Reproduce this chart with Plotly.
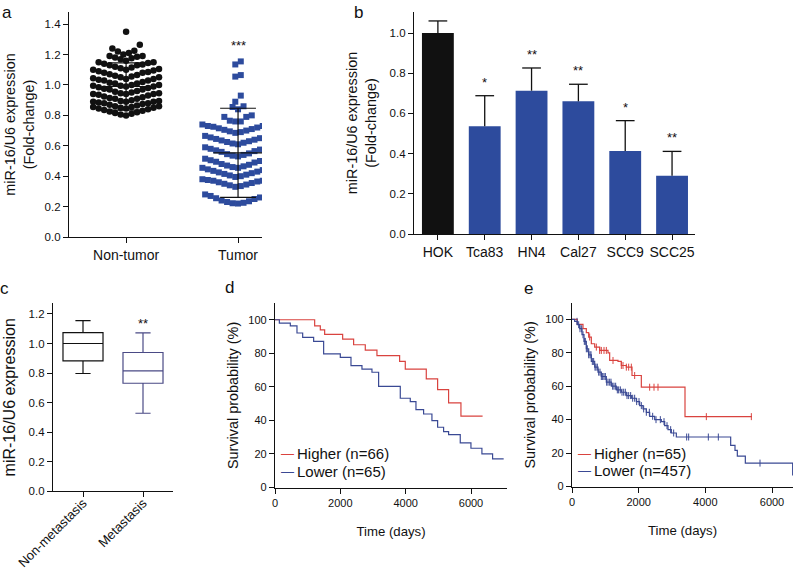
import numpy as np
import plotly.graph_objects as go

W, H = 800, 570
FONT = "Liberation Sans, Arial, sans-serif"
INK = "#111111"
BLUE = "#2d4b9d"
RED = "#d9433f"
KMBLUE = "#3a4994"
METBOX = "#4a4a85"

# ---------------- data ----------------
# panel a: scatter rows
a_groups = ["Non-tumor", "Tumor"]
nontumor_rows = [
    [1.35],
    [1.20, 1.21, 1.22, 1.225, 1.24, 1.265],
    [1.16, 1.17, 1.175, 1.18, 1.185, 1.19, 1.19],
    [1.10, 1.11, 1.115, 1.12, 1.13, 1.13, 1.135, 1.14, 1.145, 1.15, 1.15],
    [1.04, 1.05, 1.055, 1.06, 1.065, 1.07, 1.08, 1.08, 1.085, 1.09, 1.095, 1.10, 1.105],
    [0.99, 0.995, 1.00, 1.01, 1.01, 1.015, 1.02, 1.03, 1.03, 1.035, 1.04, 1.045, 1.05],
    [0.94, 0.945, 0.95, 0.955, 0.96, 0.97, 0.97, 0.975, 0.98, 0.985, 0.99, 0.995, 1.00],
    [0.89, 0.895, 0.90, 0.91, 0.91, 0.915, 0.92, 0.925, 0.93, 0.935, 0.94, 0.94, 0.945],
    [0.845, 0.85, 0.855, 0.86, 0.865, 0.87, 0.875, 0.88, 0.88, 0.885, 0.89, 0.89, 0.895],
    [0.80, 0.805, 0.81, 0.815, 0.82, 0.825, 0.83, 0.835, 0.84, 0.845, 0.85, 0.855, 0.86],
]
tumor_rows = [
    [1.135, 1.155],
    [1.055, 1.065],
    [0.89, 0.93],
    [0.84, 0.855, 0.86],
    [0.76, 0.76, 0.765, 0.79, 0.79, 0.80],
    [0.685, 0.69, 0.695, 0.70, 0.705, 0.71, 0.715, 0.72, 0.725, 0.73, 0.73, 0.735, 0.74, 0.74],
    [0.61, 0.615, 0.62, 0.625, 0.63, 0.635, 0.64, 0.645, 0.65, 0.655, 0.66, 0.665, 0.67],
    [0.53, 0.535, 0.54, 0.545, 0.55, 0.56, 0.565, 0.57, 0.575, 0.58, 0.585, 0.59, 0.60],
    [0.455, 0.46, 0.465, 0.47, 0.475, 0.48, 0.49, 0.495, 0.50, 0.505, 0.51, 0.515, 0.52],
    [0.395, 0.40, 0.405, 0.41, 0.415, 0.42, 0.425, 0.43, 0.435, 0.44, 0.445, 0.45, 0.455, 0.46],
    [0.33, 0.335, 0.34, 0.345, 0.35, 0.355, 0.36, 0.365, 0.37, 0.37, 0.375, 0.38, 0.38, 0.385],
    [0.22, 0.222, 0.225, 0.23, 0.235, 0.24, 0.25, 0.255, 0.26, 0.27, 0.275, 0.28, 0.29],
]
a_mean = [0.99, 0.554]
a_sd = [0.155, 0.293]
a_sig = ["", "***"]
a_sig_y = [None, 1.28]

# panel b: bars
b_lines = ["HOK", "Tca83", "HN4", "Cal27", "SCC9", "SCC25"]
b_mean = [1.0, 0.536, 0.713, 0.660, 0.413, 0.290]
b_sd = [0.060, 0.152, 0.113, 0.085, 0.151, 0.121]
b_sig = ["", "*", "**", "**", "*", "**"]

# panel c: box plots
c_groups = ["Non-metastasis", "Metastasis"]
c_low = [0.797, 0.528]
c_q1 = [0.882, 0.731]
c_med = [1.0, 0.815]
c_q3 = [1.074, 0.939]
c_high = [1.155, 1.072]
c_sig = ["", "**"]

# panel d: Kaplan-Meier
d_hi_t = [0, 1214, 1387, 1520, 2071, 2407, 2764, 3121, 3815, 3988, 4631, 4978, 5314, 5692, 6355]
d_hi_s = [100, 96.4, 94.0, 91.3, 88.5, 85.1, 81.9, 78.6, 75.2, 70.6, 64.7, 58.3, 50.4, 42.5, 42.5]
d_lo_t = [0, 133, 469, 673, 847, 1183, 1489, 1999, 2326, 2662, 2968, 3172, 3835, 4141, 4315,
          4549, 4804, 4978, 5161, 5314, 5671, 5998, 6334, 6661, 7000]
d_lo_s = [100, 98.0, 96.4, 92.1, 89.5, 87.1, 79.6, 77.6, 72.6, 70.6, 68.7, 60.3, 53.2, 51.2, 46.4,
          43.8, 39.9, 35.9, 33.3, 31.5, 26.6, 23.4, 20.0, 17.1, 17.1]
d_labels = ["Higher (n=66)", "Lower (n=65)"]

# panel e: Kaplan-Meier
e_hi_t = [0, 160, 330, 430, 500, 580, 680, 830, 1080, 1130, 1380, 1480, 1630, 1800, 2080, 3390, 5400]
e_hi_s = [100, 97.0, 94.4, 92.0, 89.4, 85.4, 83.4, 81.4, 80.0, 75.4, 74.8, 72.4, 71.4, 66.4, 59.4, 41.8, 41.8]
e_hi_cens = [530, 730, 830, 880, 960, 1030, 1230, 1480, 1530, 1630, 1700, 1780, 1880, 2330, 2460, 2580, 4030, 5380]
e_lo_t = [0, 80, 160, 230, 300, 360, 430, 500, 580, 680, 780, 880, 1030, 1180, 1330, 1480, 1630,
          1780, 1930, 2030, 2130, 2230, 2330, 2480, 2680, 2780, 2880, 2980, 3130, 4760, 4890, 4960,
          5200, 6620]
e_lo_s = [100, 98.8, 96.8, 94.4, 90.8, 86.8, 82.4, 78.8, 74.8, 71.4, 68.4, 65.8, 62.4, 60.0, 57.8,
          56.4, 54.4, 52.8, 50.8, 48.4, 46.4, 44.4, 42.0, 40.0, 38.8, 36.4, 34.0, 32.0, 29.6, 24.6,
          21.6, 18.2, 14.0, 6.6]
e_lo_cens = [150, 200, 240, 290, 330, 370, 400, 430, 460, 500, 540, 570, 610, 650, 690, 720, 760,
             800, 840, 880, 920, 960, 1000, 1040, 1080, 1130, 1170, 1220, 1260, 1310, 1360, 1400,
             1450, 1500, 1550, 1600, 1650, 1700, 1760, 1820, 1880, 1940, 2010, 2080, 2150, 2230,
             2320, 2420, 2520, 2650, 2760, 2850, 2960, 3050, 3440, 3500, 4090, 4390, 5640]
e_labels = ["Higher (n=65)", "Lower (n=457)"]


# ---------------- helpers ----------------
def px_x(p):
    return p / W


def px_y(p):
    return 1 - p / H


def swarm(rows, center, dx):
    xs, ys = [], []
    for row in rows:
        vals = sorted(row)
        n = len(vals)
        offs = sorted([(k - (n - 1) / 2) * dx for k in range(n)], key=lambda o: (abs(o), o))
        for v, o in zip(vals, offs):
            xs.append(center + o)
            ys.append(v)
    return xs, ys


def step_at(times, surv, t):
    idx = np.searchsorted(np.asarray(times), np.asarray(t), side="right") - 1
    return list(np.asarray(surv)[idx])


fig = go.Figure()

# ---------------- panel a ----------------
xs, ys = swarm(nontumor_rows, 0, 0.049)
fig.add_trace(go.Scatter(x=xs, y=ys, mode="markers", xaxis="x", yaxis="y",
                         marker=dict(symbol="circle", size=6.5, color=INK, line=dict(width=0)),
                         showlegend=False, hoverinfo="skip"))
xs, ys = swarm(tumor_rows, 1, 0.049)
fig.add_trace(go.Scatter(x=xs, y=ys, mode="markers", xaxis="x", yaxis="y",
                         marker=dict(symbol="square", size=6, color=BLUE, line=dict(width=0)),
                         showlegend=False, hoverinfo="skip"))
ex, ey = [], []
for i, (m, s) in enumerate(zip(a_mean, a_sd)):
    ex += [i, i, None, i - 0.16, i + 0.16, None, i - 0.16, i + 0.16, None, i - 0.22, i + 0.22, None]
    ey += [m - s, m + s, None, m + s, m + s, None, m - s, m - s, None, m, m, None]
fig.add_trace(go.Scatter(x=ex, y=ey, mode="lines", xaxis="x", yaxis="y",
                         line=dict(color=INK, width=1.2), showlegend=False, hoverinfo="skip"))

# ---------------- panel b ----------------
fig.add_trace(go.Bar(x=list(range(len(b_lines))), y=b_mean, width=0.68, xaxis="x2", yaxis="y2",
                     marker=dict(color=[INK] + [BLUE] * (len(b_lines) - 1), line=dict(width=0)),
                     showlegend=False))
bx, by = [], []
for i, (m, s) in enumerate(zip(b_mean, b_sd)):
    bx += [i, i, None, i - 0.2, i + 0.2, None]
    by += [m, m + s, None, m + s, m + s, None]
fig.add_trace(go.Scatter(x=bx, y=by, mode="lines", xaxis="x2", yaxis="y2",
                         line=dict(color=INK, width=1.3), showlegend=False, hoverinfo="skip"))

# ---------------- panel c ----------------
for i, col in enumerate([INK, METBOX]):
    fig.add_trace(go.Box(x=[i], q1=[c_q1[i]], median=[c_med[i]], q3=[c_q3[i]],
                         lowerfence=[c_low[i]], upperfence=[c_high[i]], width=0.667,
                         fillcolor="white", line=dict(color=col, width=1.2), whiskerwidth=0.38,
                         boxpoints=False, xaxis="x3", yaxis="y3", showlegend=False))

# ---------------- panel d ----------------
fig.add_trace(go.Scatter(x=d_hi_t, y=d_hi_s, mode="lines", line=dict(color=RED, width=1.2, shape="hv"),
                         xaxis="x4", yaxis="y4", name=d_labels[0], showlegend=False))
fig.add_trace(go.Scatter(x=d_lo_t, y=d_lo_s, mode="lines", line=dict(color=KMBLUE, width=1.2, shape="hv"),
                         xaxis="x4", yaxis="y4", name=d_labels[1], showlegend=False))

# ---------------- panel e ----------------
fig.add_trace(go.Scatter(x=e_hi_t, y=e_hi_s, mode="lines", line=dict(color=RED, width=1.2, shape="hv"),
                         xaxis="x5", yaxis="y5", name=e_labels[0], showlegend=False))
fig.add_trace(go.Scatter(x=e_lo_t, y=e_lo_s, mode="lines", line=dict(color=KMBLUE, width=1.2, shape="hv"),
                         xaxis="x5", yaxis="y5", name=e_labels[1], showlegend=False))
fig.add_trace(go.Scatter(x=e_hi_cens, y=step_at(e_hi_t, e_hi_s, e_hi_cens), mode="markers",
                         marker=dict(symbol="line-ns-open", size=5, color=RED, line=dict(color=RED, width=1)),
                         xaxis="x5", yaxis="y5", showlegend=False, hoverinfo="skip"))
fig.add_trace(go.Scatter(x=e_lo_cens, y=step_at(e_lo_t, e_lo_s, e_lo_cens), mode="markers",
                         marker=dict(symbol="line-ns-open", size=5, color=KMBLUE, line=dict(color=KMBLUE, width=1)),
                         xaxis="x5", yaxis="y5", showlegend=False, hoverinfo="skip"))

# ---------------- axes ----------------
def ax(**kw):
    base = dict(showline=True, linecolor=INK, linewidth=1.3, ticks="outside", ticklen=5, tickwidth=1.3,
                tickcolor=INK, showgrid=False, zeroline=False, automargin=False,
                tickfont=dict(size=11.5, family=FONT, color=INK))
    base.update(kw)
    return base


TITLE_AB = dict(size=14.4, family=FONT, color=INK)
TITLE_C = dict(size=16, family=FONT, color=INK)
CAT14 = dict(size=14, family=FONT, color=INK)
CAT_C = dict(size=13, family=FONT, color=INK)
TICK11 = dict(size=11, family=FONT, color=INK)
TITLE_SURV = dict(size=14.4, family=FONT, color=INK)
TITLE_TIME = dict(size=13.2, family=FONT, color=INK)

fig.update_layout(
    xaxis=ax(domain=[px_x(69), px_x(262)], anchor="y", range=[-0.51, 1.214],
             tickvals=[0, 1], ticktext=a_groups, tickfont=CAT14),
    yaxis=ax(domain=[px_y(237), px_y(12)], anchor="x", range=[0, 1.48],
             tickvals=[0, 0.2, 0.4, 0.6, 0.8, 1.0, 1.2, 1.4], tickformat=".1f",
             title=dict(text="miR-16/U6 expression<br>(Fold-change)", font=TITLE_AB, standoff=6)),
    xaxis2=ax(domain=[px_x(414), px_x(695)], anchor="y2", range=[-0.51, 5.49],
              tickvals=list(range(len(b_lines))), ticktext=b_lines, tickfont=CAT14),
    yaxis2=ax(domain=[px_y(234), px_y(12)], anchor="x2", range=[0, 1.1045],
              tickvals=[0, 0.2, 0.4, 0.6, 0.8, 1.0], tickformat=".1f",
              title=dict(text="miR-16/U6 expression<br>(Fold-change)", font=TITLE_AB, standoff=9)),
    xaxis3=ax(domain=[px_x(53), px_x(173)], anchor="y3", range=[-0.5, 1.5],
              tickvals=[0, 1], ticktext=c_groups, tickangle=-45, tickfont=CAT_C, ticklabelstandoff=-7),
    yaxis3=ax(domain=[px_y(491.3), px_y(303.3)], anchor="x3", range=[0, 1.272],
              tickvals=[0, 0.2, 0.4, 0.6, 0.8, 1.0, 1.2], tickformat=".1f",
              title=dict(text="miR-16/U6 expression", font=TITLE_C, standoff=8)),
    xaxis4=ax(domain=[px_x(275), px_x(507)], anchor="y4", range=[0, 7102], tickvals=[0, 2000, 4000, 6000],
              tickfont=TICK11, title=dict(text="Time (days)", font=TITLE_TIME, standoff=18)),
    yaxis4=ax(domain=[px_y(487.5), px_y(303.3)], anchor="x4", range=[0, 109.8],
              tickvals=[0, 20, 40, 60, 80, 100], tickfont=TICK11,
              title=dict(text="Survival probability (%)", font=TITLE_SURV, standoff=6)),
    xaxis5=ax(domain=[px_x(572), px_x(793)], anchor="y5", range=[0, 6630], tickvals=[0, 2000, 4000, 6000],
              tickfont=TICK11, title=dict(text="Time (days)", font=TITLE_TIME, standoff=18)),
    yaxis5=ax(domain=[px_y(486.5), px_y(303.3)], anchor="x5", range=[0, 109.6],
              tickvals=[0, 20, 40, 60, 80, 100], tickfont=TICK11,
              title=dict(text="Survival probability (%)", font=TITLE_SURV, standoff=6)),
)

# ---------------- annotations ----------------
ann = []
for lab, x, y in [("a", 6.5, 13), ("b", 358, 12.5), ("c", 4.5, 288), ("d", 230, 287), ("e", 528, 288)]:
    ann.append(dict(text=lab, x=px_x(x), y=px_y(y), xref="paper", yref="paper", showarrow=False,
                    xanchor="center", yanchor="middle", font=dict(size=17, family=FONT, color=INK)))
STAR = dict(size=13, family=FONT, color=INK)
for i, s in enumerate(a_sig):
    if s:
        ann.append(dict(text=s, x=i, y=a_sig_y[i], xref="x", yref="y", showarrow=False, yanchor="middle",
                        yshift=-3, font=STAR))
for i, s in enumerate(b_sig):
    if s:
        ann.append(dict(text=s, x=i, y=b_mean[i] + b_sd[i], xref="x2", yref="y2", showarrow=False,
                        yanchor="bottom", yshift=4, font=STAR))
for i, s in enumerate(c_sig):
    if s:
        ann.append(dict(text=s, x=i, y=c_high[i], xref="x3", yref="y3", showarrow=False,
                        yanchor="bottom", yshift=0, font=STAR))
LEG = dict(size=15, family=FONT, color=INK)
for (lab, col, x, y) in [(d_labels[0], RED, 279, 453), (d_labels[1], KMBLUE, 279, 471),
                         (e_labels[0], RED, 576, 453), (e_labels[1], KMBLUE, 576, 470)]:
    ann.append(dict(text="—", x=px_x(x), y=px_y(y), xref="paper", yref="paper", showarrow=False,
                    xanchor="left", yanchor="middle", font=dict(size=13, family=FONT, color=col)))
    ann.append(dict(text=lab, x=px_x(x + 16), y=px_y(y), xref="paper", yref="paper", showarrow=False,
                    xanchor="left", yanchor="middle", font=LEG))

fig.update_layout(width=W, height=H, margin=dict(l=0, r=0, t=0, b=0, autoexpand=False),
                  paper_bgcolor="white", plot_bgcolor="white", annotations=ann,
                  font=dict(family=FONT, color=INK))

fig.write_html("out.html", post_script="document.body.style.margin='0';",
               config={"displayModeBar": False})
